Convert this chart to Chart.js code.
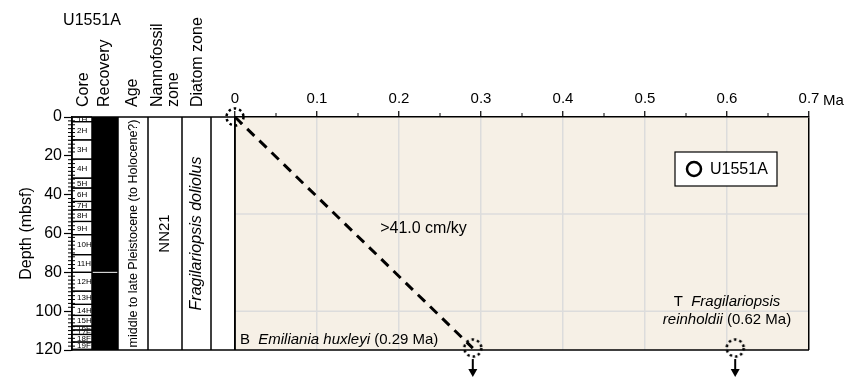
<!DOCTYPE html>
<html>
<head>
<meta charset="utf-8">
<script src="https://cdn.jsdelivr.net/npm/chart.js@4.4.0/dist/chart.umd.min.js"></script>
<style>
html, body { margin: 0; padding: 0; background: #fff; }
</style>
</head>
<body>
<canvas id="myCanvas" width="847" height="379"></canvas>
<script>
var FONT = '"Liberation Sans", Arial, sans-serif';

// cores, depth in mbsf
var coreNames  = ['1H','2H','3H','4H','5H','6H','7H','8H','9H','10H','11H','12H','13H','14H','15H','16F','17F','18F','19F'];
var coreTop    = [0, 2.4, 11.8, 21.7, 31.5, 36.6, 43.5, 47.8, 53.8, 60.6, 70.9, 80.0, 89.7, 96.5, 102.2, 107.7, 109.7, 112.0, 115.9];
var coreBottom = [2.4, 11.8, 21.7, 31.5, 36.6, 43.5, 47.8, 53.8, 60.6, 70.9, 80.0, 89.7, 96.5, 102.2, 107.7, 109.7, 112.0, 115.9, 119.6];
var recoveryTop    = [0, 80.25];
var recoveryBottom = [79.75, 120];

// biostratigraphic datums
var datumAge   = [0, 0.29, 0.61];
var datumDepth = [0, 119, 119];
var datumBelow = [false, true, true];

// sedimentation rate line
var rateAge   = [0, 0.29];
var rateDepth = [0, 119];

var ageTicks   = [0, 0.1, 0.2, 0.3, 0.4, 0.5, 0.6, 0.7];
var depthTicks = [0, 20, 40, 60, 80, 100, 120];
var depthGrid  = [50, 100];

// strip log columns (units of the strip scale)
var colEdges = [0, 20, 46, 76, 110, 139, 163];

function makeRing() {
    var cv = document.createElement('canvas');
    cv.width = 24; cv.height = 24;
    var g = cv.getContext('2d');
    g.strokeStyle = '#000';
    g.lineWidth = 2.5;
    g.setLineDash([2.5, 3]);
    g.beginPath();
    g.arc(12, 12, 8.5, 0, Math.PI * 2);
    g.stroke();
    return cv;
}

function drawRich(c, parts, x, y, size, align) {
    var w = 0, i;
    for (i = 0; i < parts.length; i++) {
        c.font = (parts[i][1] ? 'italic ' : '') + size + 'px ' + FONT;
        w += c.measureText(parts[i][0]).width;
    }
    var px = align === 'center' ? x - w / 2 : x;
    c.textAlign = 'left';
    for (i = 0; i < parts.length; i++) {
        c.font = (parts[i][1] ? 'italic ' : '') + size + 'px ' + FONT;
        c.fillText(parts[i][0], px, y);
        px += c.measureText(parts[i][0]).width;
    }
}

function vText(c, txt, x, y, font, align) {
    c.save();
    c.translate(x, y);
    c.rotate(-Math.PI / 2);
    c.font = font;
    c.textAlign = align;
    c.textBaseline = 'middle';
    c.fillText(txt, 0, 0);
    c.restore();
}

var stripPlugin = {
    id: 'strip',
    beforeDraw: function(chart) {
        var c = chart.ctx, x = chart.scales.x, y = chart.scales.y, a = chart.chartArea;
        var x0 = x.getPixelForValue(0), x1 = x.getPixelForValue(0.7);
        c.save();
        c.fillStyle = '#f6f0e6';
        c.fillRect(x0, a.top, x1 - x0, a.bottom - a.top);
        c.strokeStyle = '#dcdcdc';
        c.lineWidth = 1.5;
        for (var i = 0; i < depthGrid.length; i++) {
            var py = y.getPixelForValue(depthGrid[i]);
            c.beginPath(); c.moveTo(x0, py); c.lineTo(x1, py); c.stroke();
        }
        c.restore();
    },
    afterDatasetsDraw: function(chart) {
        var c = chart.ctx, x = chart.scales.x, y = chart.scales.y, a = chart.chartArea;
        c.save();
        c.fillStyle = '#000';
        c.strokeStyle = '#000';
        c.textBaseline = 'middle';

        drawRich(c, [['>41.0 cm/ky', false]], x.getPixelForValue(0.177), y.getPixelForValue(57.5), 16, 'left');
        drawRich(c, [['B  ', false], ['Emiliania huxleyi', true], [' (0.29 Ma)', false]],
            x.getPixelForValue(0.006), y.getPixelForValue(115), 15, 'left');
        drawRich(c, [['T  ', false], ['Fragilariopsis', true]], x.getPixelForValue(0.6), y.getPixelForValue(95.2), 15, 'center');
        drawRich(c, [['reinholdii', true], [' (0.62 Ma)', false]], x.getPixelForValue(0.6), y.getPixelForValue(104.7), 15, 'center');

        // arrows under datums that are below the hole
        c.lineWidth = 2;
        for (var i = 0; i < datumAge.length; i++) {
            if (!datumBelow[i]) continue;
            var px = x.getPixelForValue(datumAge[i]);
            var py = y.getPixelForValue(datumDepth[i]) + 11;
            c.beginPath(); c.moveTo(px, py); c.lineTo(px, a.bottom + 22); c.stroke();
            c.beginPath();
            c.moveTo(px - 4.5, a.bottom + 19);
            c.lineTo(px + 4.5, a.bottom + 19);
            c.lineTo(px, a.bottom + 27);
            c.closePath(); c.fill();
        }

        // legend
        var ds = chart.data.datasets[1];
        var lx = a.right - 134, ly = a.top + 35;
        c.fillStyle = '#fff';
        c.fillRect(lx, ly, 102, 34);
        c.lineWidth = 1.2;
        c.strokeRect(lx, ly, 102, 34);
        c.lineWidth = 2.5;
        c.beginPath(); c.arc(lx + 19, ly + 17, 7, 0, Math.PI * 2); c.stroke();
        c.fillStyle = '#000';
        c.font = '16px ' + FONT;
        c.textAlign = 'left';
        c.fillText(ds.label, lx + 35, ly + 17.5);
        c.restore();
    },
    afterDraw: function(chart) {
        var c = chart.ctx, xs = chart.scales.xs, x = chart.scales.x, y = chart.scales.y, a = chart.chartArea;
        var col = colEdges.map(function(v) { return xs.getPixelForValue(v); });
        var i, t, b;
        c.save();

        // recovery
        c.fillStyle = '#000';
        for (i = 0; i < recoveryTop.length; i++) {
            t = y.getPixelForValue(recoveryTop[i]);
            b = y.getPixelForValue(recoveryBottom[i]);
            c.fillRect(col[1], t, col[2] - col[1], b - t);
        }

        // cores
        c.strokeStyle = '#000';
        c.lineWidth = 1.2;
        for (i = 0; i < coreNames.length; i++) {
            t = y.getPixelForValue(coreTop[i]);
            b = y.getPixelForValue(coreBottom[i]);
            c.beginPath(); c.moveTo(col[0], t); c.lineTo(col[1], t); c.stroke();
            c.beginPath(); c.moveTo(col[0], b); c.lineTo(col[1], b); c.stroke();
            c.save();
            c.beginPath(); c.rect(col[0], t + 0.6, col[1] - col[0], b - t - 1.2); c.clip();
            c.fillStyle = '#000';
            c.font = '8px ' + FONT;
            c.textAlign = 'left';
            c.textBaseline = 'middle';
            c.fillText(coreNames[i], col[0] + 5, (t + b) / 2 + 0.5);
            c.restore();
        }

        // minor depth ticks
        c.lineWidth = 1;
        for (var d = 0; d <= 120; d += 2) {
            if (d % 20 === 0) continue;
            var py = y.getPixelForValue(d);
            c.beginPath(); c.moveTo(a.left - 4, py); c.lineTo(a.left + 3, py); c.stroke();
        }
        // minor age ticks
        for (i = 0; i < ageTicks.length - 1; i++) {
            var mx = x.getPixelForValue((ageTicks[i] + ageTicks[i + 1]) / 2);
            c.beginPath(); c.moveTo(mx, a.top); c.lineTo(mx, a.top - 4); c.stroke();
        }

        // column frame
        c.lineWidth = 1.5;
        for (i = 0; i < col.length; i++) {
            c.beginPath(); c.moveTo(col[i], a.top); c.lineTo(col[i], a.bottom); c.stroke();
        }
        c.beginPath(); c.moveTo(col[0], a.top); c.lineTo(col[col.length - 1], a.top); c.stroke();
        c.beginPath(); c.moveTo(col[0], a.bottom); c.lineTo(x.getPixelForValue(0.7), a.bottom); c.stroke();

        // column contents
        c.fillStyle = '#000';
        var mid = (a.top + a.bottom) / 2;
        vText(c, 'middle to late Pleistocene (to Holocene?)', (col[2] + col[3]) / 2 + 1, mid, '12.5px ' + FONT, 'center');
        vText(c, 'NN21', (col[3] + col[4]) / 2, mid, '15px ' + FONT, 'center');
        vText(c, 'Fragilariopsis doliolus', (col[4] + col[5]) / 2, mid, 'italic 16px ' + FONT, 'center');

        // headers
        var hy = a.top - 10;
        var hf = '16px ' + FONT;
        vText(c, 'Core', (col[0] + col[1]) / 2 + 2, hy, hf, 'left');
        vText(c, 'Recovery', (col[1] + col[2]) / 2, hy, hf, 'left');
        vText(c, 'Age', (col[2] + col[3]) / 2, hy, hf, 'left');
        vText(c, 'Nannofossil', (col[3] + col[4]) / 2 - 7, hy, hf, 'left');
        vText(c, 'zone', (col[3] + col[4]) / 2 + 9, hy, hf, 'left');
        vText(c, 'Diatom zone', (col[4] + col[5]) / 2 + 1, hy, hf, 'left');

        c.font = '16px ' + FONT;
        c.textAlign = 'center';
        c.textBaseline = 'middle';
        c.fillText('U1551A', (col[0] + col[2]) / 2 - 3, 21);

        c.font = '15px ' + FONT;
        c.textAlign = 'left';
        c.textBaseline = 'bottom';
        c.fillText('Ma', x.getPixelForValue(0.7) + 14, a.top - 9);
        c.restore();
    }
};

var ctx = document.getElementById('myCanvas').getContext('2d');
var chart = new Chart(ctx, {
    type: 'scatter',
    data: {
        datasets: [{
            type: 'line',
            label: 'rate',
            xAxisID: 'x',
            yAxisID: 'y',
            data: rateAge.map(function(v, i) { return {x: v, y: rateDepth[i]}; }),
            borderColor: '#000',
            borderWidth: 3,
            borderDash: [10, 7],
            pointRadius: 0,
            fill: false,
            clip: false
        }, {
            label: 'U1551A',
            xAxisID: 'x',
            yAxisID: 'y',
            data: datumAge.map(function(v, i) { return {x: v, y: datumDepth[i]}; }),
            pointStyle: makeRing(),
            pointRadius: 10,
            clip: false
        }]
    },
    options: {
        responsive: false,
        animation: false,
        layout: { padding: { left: 0, top: 0, right: 38, bottom: 29 } },
        plugins: { legend: { display: false }, tooltip: { enabled: false } },
        scales: {
            xs: {
                type: 'linear', position: 'top', stack: 'top', stackWeight: 163, weight: 1,
                min: 0, max: 163,
                ticks: { display: false },
                grid: { display: false },
                border: { display: false },
                afterFit: function(s) { s.height = 117; }
            },
            x: {
                type: 'linear', position: 'top', stack: 'top', stackWeight: 574, weight: 0,
                min: 0, max: 0.7,
                afterBuildTicks: function(s) { s.ticks = ageTicks.map(function(v) { return {value: v}; }); },
                ticks: {
                    color: '#000', font: { family: FONT, size: 15 }, padding: 3,
                    maxRotation: 0, autoSkip: false,
                    callback: function(v) { return v === 0 ? '0' : v.toFixed(1); }
                },
                grid: {
                    color: function(c) {
                        var v = c.tick ? c.tick.value : 0;
                        return (v === 0 || v > 0.69) ? '#000' : '#dcdcdc';
                    },
                    lineWidth: 1.5,
                    tickColor: '#000', tickLength: 6, tickWidth: 1.2
                },
                border: { display: true, color: '#000', width: 1.5 },
                afterFit: function(s) { s.height = 117; }
            },
            y: {
                type: 'linear', position: 'left', reverse: true,
                min: 0, max: 120,
                afterBuildTicks: function(s) { s.ticks = depthTicks.map(function(v) { return {value: v}; }); },
                ticks: { color: '#000', font: { family: FONT, size: 16 }, padding: 2 },
                grid: { drawOnChartArea: false, tickColor: '#000', tickLength: 8, tickWidth: 1.2 },
                border: { display: true, color: '#000', width: 1.5 },
                title: { display: true, text: 'Depth (mbsf)', color: '#000', font: { family: FONT, size: 16 }, padding: { top: 17, bottom: 0 } },
                afterFit: function(s) { s.width = 72; }
            }
        }
    },
    plugins: [stripPlugin]
});
</script>
</body>
</html>
